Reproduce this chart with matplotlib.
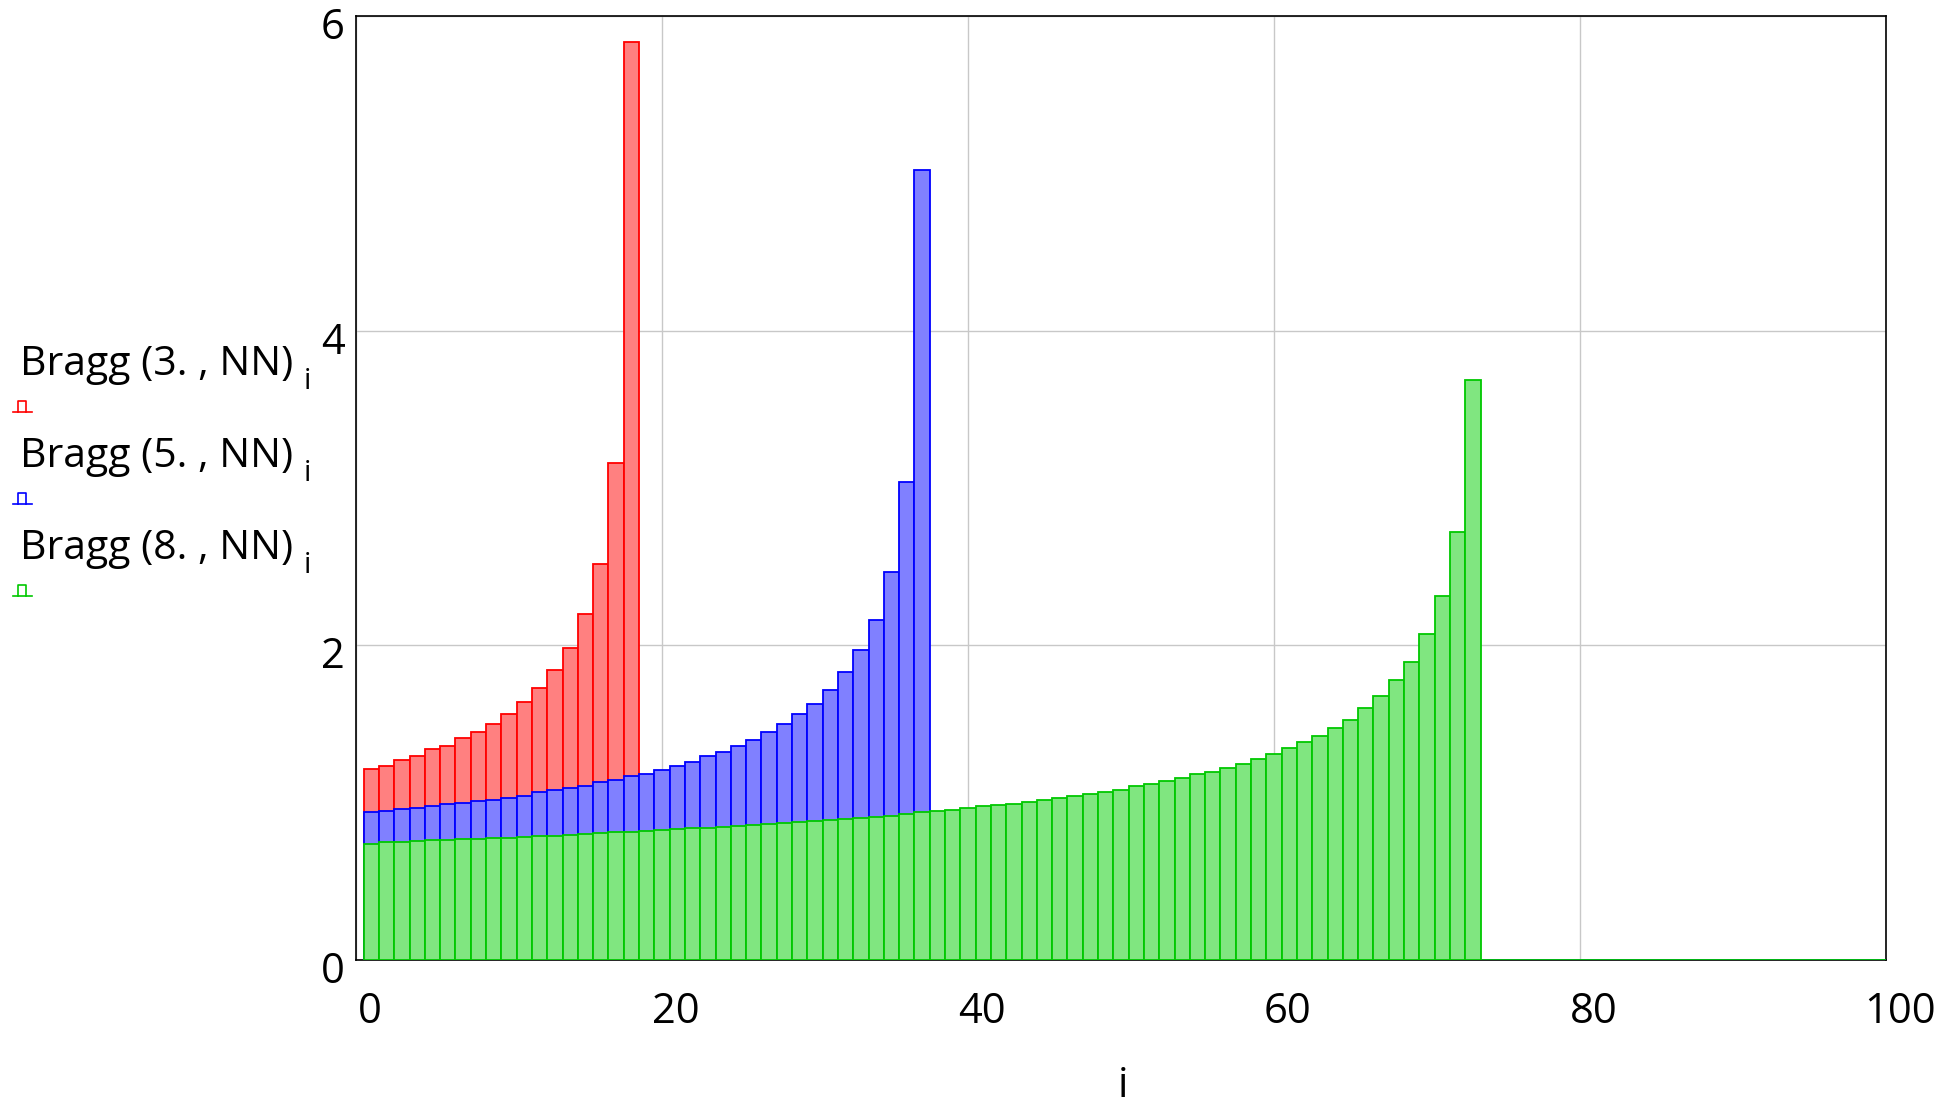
import numpy as np
import matplotlib
matplotlib.use("Agg")
import matplotlib.pyplot as plt
from matplotlib.transforms import ScaledTranslation
from matplotlib.lines import Line2D

plt.rcParams['font.family'] = ['Open Sans', 'DejaVu Sans']

# ---------------- data ----------------
N_POINTS = 100
legend_labels = ["Bragg (3. , NN)", "Bragg (5. , NN)", "Bragg (8. , NN)"]
legend_sub = "i"
x_label = "i"
x_ticks = [0, 20, 40, 60, 80, 100]
y_ticks = [0, 2, 4, 6]

bragg_3 = [1.212, 1.235, 1.273, 1.299, 1.339, 1.362, 1.413, 1.451, 1.502, 1.566,
           1.642, 1.731, 1.845, 1.985, 2.201, 2.519, 3.157, 5.837]
bragg_5 = [0.943, 0.950, 0.957, 0.966, 0.977, 0.990, 1.000, 1.008, 1.019, 1.031,
           1.045, 1.066, 1.080, 1.094, 1.108, 1.130, 1.146, 1.170, 1.185, 1.210,
           1.235, 1.261, 1.297, 1.324, 1.360, 1.400, 1.450, 1.502, 1.566, 1.630,
           1.718, 1.833, 1.972, 2.163, 2.468, 3.040, 5.023]
bragg_8 = [0.739, 0.748, 0.752, 0.755, 0.762, 0.765, 0.767, 0.770, 0.776, 0.778,
           0.781, 0.788, 0.790, 0.793, 0.801, 0.805, 0.812, 0.816, 0.819, 0.826,
           0.830, 0.838, 0.841, 0.845, 0.852, 0.856, 0.864, 0.869, 0.876, 0.881,
           0.889, 0.894, 0.903, 0.912, 0.918, 0.930, 0.940, 0.946, 0.955, 0.965,
           0.976, 0.984, 0.994, 1.006, 1.019, 1.032, 1.045, 1.057, 1.070, 1.083,
           1.105, 1.121, 1.135, 1.159, 1.182, 1.197, 1.222, 1.248, 1.275, 1.311,
           1.350, 1.388, 1.426, 1.477, 1.528, 1.604, 1.680, 1.782, 1.896, 2.074,
           2.316, 2.723, 3.689]

series = [bragg_3, bragg_5, bragg_8]
fill_colors = ["#FF8080", "#8080FF", "#80E680"]
edge_colors = ["#FF0000", "#0000FF", "#00C800"]

# ---------------- figure ----------------
W, H = 1950, 1102
fig = plt.figure(figsize=(W / 100, H / 100), dpi=100)
ax_l, ax_r, ax_t, ax_b = 356, 1886, 16, 960
ax = fig.add_axes([ax_l / W, (H - ax_b) / H, (ax_r - ax_l) / W, (ax_b - ax_t) / H])

idx = np.arange(N_POINTS)
for vals, fc, ec in zip(series, fill_colors, edge_colors):
    v = np.zeros(N_POINTS)
    v[:len(vals)] = vals
    ax.bar(idx + 1, v, width=1.0, color=fc, edgecolor=ec, linewidth=1.3, zorder=3)

ax.set_xlim(0, 100)
ax.set_ylim(0, 6)
ax.set_xticks(x_ticks)
ax.set_yticks(y_ticks)
ax.grid(True, color="#C8C8C8", linewidth=1.0)
ax.set_axisbelow(True)
for s in ax.spines.values():
    s.set_color("black")
    s.set_linewidth(1.2)
    s.set_zorder(2.5)

ax.tick_params(axis='both', length=0, labelsize=30)
ax.tick_params(axis='x', pad=22)
ax.tick_params(axis='y', pad=8)
for lab in ax.get_xticklabels():
    lab.set_transform(lab.get_transform() + ScaledTranslation(14 / 100, 0, fig.dpi_scale_trans))
for lab in ax.get_yticklabels():
    lab.set_transform(lab.get_transform() + ScaledTranslation(0, -7 / 100, fig.dpi_scale_trans))

fig.text((ax_l + ax_r) / 2 / W + 2 / W, (H - 1097) / H, x_label, fontsize=30,
         ha='center', va='baseline')

# ---------------- legend (left side) ----------------
for k, (lab, ec) in enumerate(zip(legend_labels, edge_colors)):
    dy = 92 * k
    base_y = 375 + dy
    t = fig.text(20 / W, (H - base_y) / H, lab, fontsize=29.5, ha='left', va='baseline')
    ax.annotate(legend_sub, xy=(1, 0), xycoords=t, xytext=(11, -4),
                textcoords='offset pixels', fontsize=21, ha='left', va='baseline',
                annotation_clip=False)
    sy = 412 + dy
    bx = [13, 32]
    by = [sy, sy]
    px = [18, 18, 26, 26]
    py = [sy, sy - 11, sy - 11, sy]
    fig.add_artist(Line2D([p / W for p in bx], [(H - p) / H for p in by],
                          transform=fig.transFigure, color=ec, linewidth=1.2))
    fig.add_artist(Line2D([p / W for p in px], [(H - p) / H for p in py],
                          transform=fig.transFigure, color=ec, linewidth=1.2))

fig.savefig("out.png", dpi=100)
